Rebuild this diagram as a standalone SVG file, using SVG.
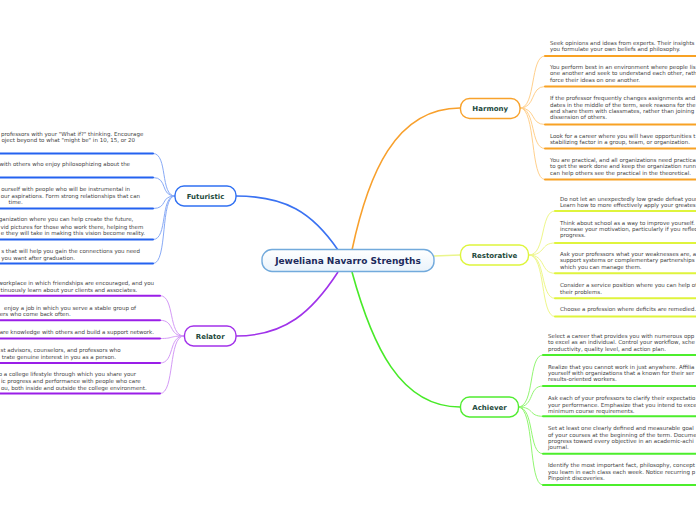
<svg xmlns="http://www.w3.org/2000/svg" width="696" height="520" viewBox="0 0 696 520">
<defs>
<linearGradient id="cg" x1="0" y1="0" x2="0" y2="1"><stop offset="0" stop-color="#ffffff"/><stop offset="1" stop-color="#eaf3fb"/></linearGradient>
<style>
text{font-family:"DejaVu Sans","Verdana",sans-serif}
.leaf{font-size:5.5px;fill:#444444}
.end{text-anchor:end}
.topic{font-size:7px;font-weight:bold;fill:#1d4a3c;text-anchor:middle}
.center{font-size:9px;font-weight:bold;fill:#1c2a5c;text-anchor:middle}
.c{fill:none;stroke-width:1}
.u{fill:none;stroke-width:2;stroke-linecap:round}
.m{fill:none;stroke-width:1.6}
.fb{stroke:#88aaf6}.fu{stroke:#2462f0}
.rb{stroke:#d49af6}.ru{stroke:#9a1ee8}
.hb{stroke:#ffd08c}.hu{stroke:#f8a224}
.sb{stroke:#eef78a}.su{stroke:#dff43c}
.ab{stroke:#92f672}.au{stroke:#4cee2c}
</style>
</defs>
<rect width="696" height="520" fill="#ffffff"/>
<g id="connectors">
<path class="m" stroke="#f8a02c" d="M352,250 C368,175 395,108 460,108"/>
<path class="m" stroke="#eaf58c" stroke-width="2" d="M434,256 L460,255"/>
<path class="m" stroke="#48ea28" d="M352,272 C372,345 400,407 460,407"/>
<path class="m" stroke="#3a72f2" d="M338,250 C312,212 285,196 236,196"/>
<path class="m" stroke="#a032ea" d="M338,272 C312,312 285,336 236,336"/>
<!-- Futuristic -->
<path class="c fb" d="M175,196 C160,196 168,153.5 153,153.5"/>
<path class="c fb" d="M175,196 C160,196 168,177.5 153,177.5"/>
<path class="c fb" d="M175,196 C160,196 168,208.5 153,208.5"/>
<path class="c fb" d="M175,196 C160,196 168,239.5 153,239.5"/>
<path class="c fb" d="M175,196 C160,196 168,263.5 153,263.5"/>
<path class="u fu" d="M-5,153.5 H153 M-5,177.5 H153 M-5,208.5 H153 M-5,239.5 H153 M-5,263.5 H153"/>
<!-- Relator -->
<path class="c rb" d="M184,336 C168,336 175,295.7 160,295.7"/>
<path class="c rb" d="M184,336 C168,336 175,320.3 160,320.3"/>
<path class="c rb" d="M184,336 C168,336 175,338.5 160,338.5"/>
<path class="c rb" d="M184,336 C168,336 175,363 160,363"/>
<path class="c rb" d="M184,336 C168,336 175,393.5 160,393.5"/>
<path class="u ru" d="M-5,295.7 H160 M-5,320.3 H160 M-5,338.5 H160 M-5,363 H160 M-5,393.5 H160"/>
<!-- Harmony -->
<path class="c hb" d="M520,108 C536,108 530,56 545,56"/>
<path class="c hb" d="M520,108 C536,108 530,86.5 545,86.5"/>
<path class="c hb" d="M520,108 C536,108 530,124.5 545,124.5"/>
<path class="c hb" d="M520,108 C536,108 530,148.5 545,148.5"/>
<path class="c hb" d="M520,108 C536,108 530,179.5 545,179.5"/>
<path class="u hu" d="M545,56 H701 M545,86.5 H701 M545,124.5 H701 M545,148.5 H701 M545,179.5 H701"/>
<!-- Restorative -->
<path class="c sb" d="M529,255 C546,255 540,211 555,211"/>
<path class="c sb" d="M529,255 C546,255 540,243 555,243"/>
<path class="c sb" d="M529,255 C546,255 540,273.3 555,273.3"/>
<path class="c sb" d="M529,255 C546,255 540,298.3 555,298.3"/>
<path class="c sb" d="M529,255 C546,255 540,316.5 555,316.5"/>
<path class="u su" d="M555,211 H701 M555,243 H701 M555,273.3 H701 M555,298.3 H701 M555,316.5 H701"/>
<!-- Achiever -->
<path class="c ab" d="M518,407 C535,407 528,355 543,355"/>
<path class="c ab" d="M518,407 C535,407 528,386 543,386"/>
<path class="c ab" d="M518,407 C535,407 528,416.3 543,416.3"/>
<path class="c ab" d="M518,407 C535,407 528,453.7 543,453.7"/>
<path class="c ab" d="M518,407 C535,407 528,485 543,485"/>
<path class="u au" d="M543,355 H701 M543,386 H701 M543,416.3 H701 M543,453.7 H701 M543,485 H701"/>
</g>
<g id="center">
<rect x="262" y="249.5" width="172" height="22" rx="10" fill="url(#cg)" stroke="#72aadc" stroke-width="1.4"/>
<text class="center" x="348" y="264">Jeweliana Navarro Strengths</text>
</g>
<g id="futuristic">
<rect x="175" y="186" width="61" height="20" rx="9" fill="#ffffff" stroke="#3070f2" stroke-width="1.4"/>
<text class="topic" x="205.5" y="198.5">Futuristic</text>
</g>
<g id="relator">
<rect x="184.5" y="326" width="51.5" height="20" rx="9" fill="#ffffff" stroke="#a232ea" stroke-width="1.4"/>
<text class="topic" x="210.2" y="338.5">Relator</text>
</g>
<g id="harmony">
<rect x="460.5" y="98.5" width="59.5" height="20" rx="9" fill="#ffffff" stroke="#f8a22c" stroke-width="1.4"/>
<text class="topic" x="490.2" y="111">Harmony</text>
</g>
<g id="restorative">
<rect x="460.5" y="245" width="68" height="20" rx="9" fill="#ffffff" stroke="#def53c" stroke-width="1.4"/>
<text class="topic" x="494.5" y="257.5">Restorative</text>
</g>
<g id="achiever">
<rect x="460.5" y="397" width="58" height="20" rx="9" fill="#ffffff" stroke="#50ec30" stroke-width="1.4"/>
<text class="topic" x="489.5" y="409.5">Achiever</text>
</g>
<g id="futuristic-items">
<text class="leaf end" x="143.3" y="136.3">professors with your "What if?" thinking. Encourage</text>
<text class="leaf end" x="135" y="142">oject beyond to what "might be" in 10, 15, or 20</text>
<text class="leaf end" x="130" y="166">with others who enjoy philosophizing about the</text>
<text class="leaf end" x="130" y="191">ourself with people who will be instrumental in</text>
<text class="leaf end" x="140" y="197.7">our aspirations. Form strong relationships that can</text>
<text class="leaf end" x="22.7" y="204">time.</text>
<text class="leaf end" x="133.3" y="221.3">ganization where you can help create the future,</text>
<text class="leaf end" x="143.3" y="228.7">vid pictures for those who work there, helping them</text>
<text class="leaf end" x="145" y="235">e they will take in making this vision become reality.</text>
<text class="leaf end" x="140" y="253">s that will help you gain the connections you need</text>
<text class="leaf end" x="75" y="260">you want after graduation.</text>
</g>
<g id="relator-items">
<text class="leaf end" x="154" y="285.3">workplace in which friendships are encouraged, and you</text>
<text class="leaf end" x="137.3" y="292">tinuously learn about your clients and associates.</text>
<text class="leaf end" x="136" y="309.7">enjoy a job in which you serve a stable group of</text>
<text class="leaf end" x="70.7" y="315.7">ers who come back often.</text>
<text class="leaf end" x="154" y="334">are knowledge with others and build a support network.</text>
<text class="leaf end" x="120.7" y="352.3">st advisors, counselors, and professors who</text>
<text class="leaf end" x="116" y="359">trate genuine interest in you as a person.</text>
<text class="leaf end" x="136" y="376.3">o a college lifestyle through which you share your</text>
<text class="leaf end" x="140.7" y="383.3">ic progress and performance with people who care</text>
<text class="leaf end" x="146.7" y="390">ou, both inside and outside the college environment.</text>
</g>
<g id="harmony-items">
<text class="leaf" x="550" y="45.3">Seek opinions and ideas from experts. Their insights</text>
<text class="leaf" x="550" y="51.3">you formulate your own beliefs and philosophy.</text>
<text class="leaf" x="550" y="69">You perform best in an environment where people lis</text>
<text class="leaf" x="550" y="75.3">one another and seek to understand each other, rath</text>
<text class="leaf" x="550" y="82">force their ideas on one another.</text>
<text class="leaf" x="550" y="100.3">If the professor frequently changes assignments and</text>
<text class="leaf" x="550" y="106.7">dates in the middle of the term, seek reasons for the</text>
<text class="leaf" x="550" y="113">and share them with classmates, rather than joining</text>
<text class="leaf" x="550" y="119.3">dissension of others.</text>
<text class="leaf" x="550" y="138">Look for a career where you will have opportunities t</text>
<text class="leaf" x="550" y="144.3">stabilizing factor in a group, team, or organization.</text>
<text class="leaf" x="550" y="162">You are practical, and all organizations need practica</text>
<text class="leaf" x="550" y="168.3">to get the work done and keep the organization runn</text>
<text class="leaf" x="550" y="174.7">can help others see the practical in the theoretical.</text>
</g>
<g id="restorative-items">
<text class="leaf" x="560" y="201.3">Do not let an unexpectedly low grade defeat your</text>
<text class="leaf" x="560" y="207">Learn how to more effectively apply your greates</text>
<text class="leaf" x="560" y="224.7">Think about school as a way to improve yourself.</text>
<text class="leaf" x="560" y="231">increase your motivation, particularly if you reflec</text>
<text class="leaf" x="560" y="237.3">progress.</text>
<text class="leaf" x="560" y="256">Ask your professors what your weaknesses are, a</text>
<text class="leaf" x="560" y="262.3">support systems or complementary partnerships</text>
<text class="leaf" x="560" y="268.7">which you can manage them.</text>
<text class="leaf" x="560" y="286.7">Consider a service position where you can help ot</text>
<text class="leaf" x="560" y="293.7">their problems.</text>
<text class="leaf" x="560" y="311.3">Choose a profession where deficits are remedied.</text>
</g>
<g id="achiever-items">
<text class="leaf" x="548" y="338">Select a career that provides you with numerous opp</text>
<text class="leaf" x="548" y="344.3">to excel as an individual. Control your workflow, sche</text>
<text class="leaf" x="548" y="350.7">productivity, quality level, and action plan.</text>
<text class="leaf" x="548" y="368.7">Realize that you cannot work in just anywhere. Affilia</text>
<text class="leaf" x="548" y="375">yourself with organizations that a known for their ser</text>
<text class="leaf" x="548" y="381.3">results-oriented workers.</text>
<text class="leaf" x="548" y="400.3">Ask each of your professors to clarify their expectatio</text>
<text class="leaf" x="548" y="406.7">your performance. Emphasize that you intend to exce</text>
<text class="leaf" x="548" y="413">minimum course requirements.</text>
<text class="leaf" x="548" y="430.3">Set at least one clearly defined and measurable goal</text>
<text class="leaf" x="548" y="436.7">of your courses at the beginning of the term. Docume</text>
<text class="leaf" x="548" y="443">progress toward every objective in an academic-achi</text>
<text class="leaf" x="548" y="449.3">journal.</text>
<text class="leaf" x="548" y="467.3">Identify the most important fact, philosophy, concept</text>
<text class="leaf" x="548" y="473.7">you learn in each class each week. Notice recurring p</text>
<text class="leaf" x="548" y="480">Pinpoint discoveries.</text>
</g>
</svg>
